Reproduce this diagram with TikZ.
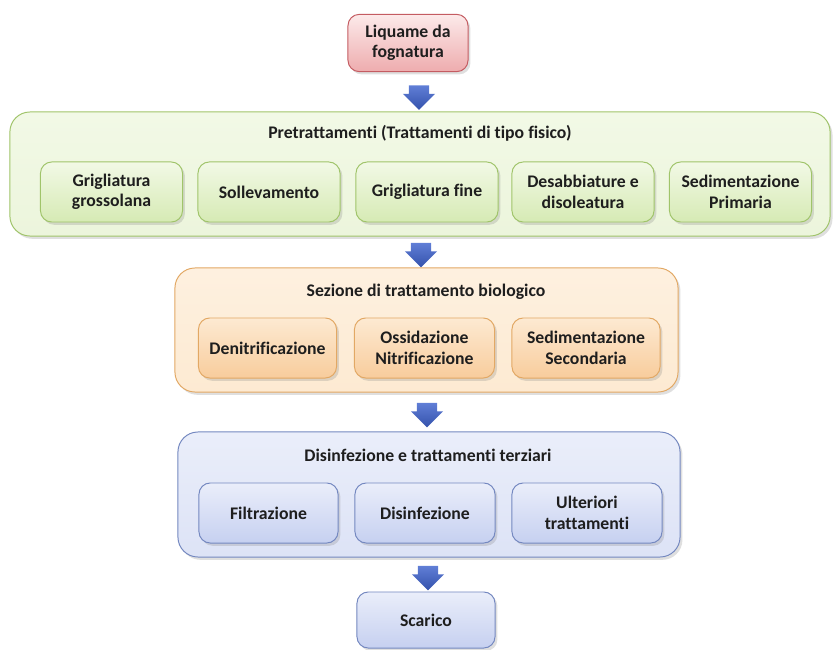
\documentclass[tikz,border=0pt]{standalone}
\usepackage{fontspec}
\setmainfont{Carlito}[Ligatures=NoCommon]
\usetikzlibrary{shapes.arrows, shadows}
\definecolor{pinktop}{RGB}{252, 234, 234}
\definecolor{pinkbot}{RGB}{238, 172, 174}
\definecolor{pinkline}{RGB}{196, 92, 98}
\definecolor{greenbg}{RGB}{236, 245, 220}
\definecolor{greentop}{RGB}{242, 249, 230}
\definecolor{greenbot}{RGB}{214, 234, 180}
\definecolor{greenline}{RGB}{160, 196, 106}
\definecolor{orangetop}{RGB}{253, 234, 210}
\definecolor{orangebot}{RGB}{248, 204, 156}
\definecolor{orangeline}{RGB}{226, 168, 100}
\definecolor{bluetop}{RGB}{234, 238, 250}
\definecolor{bluebot}{RGB}{198, 208, 240}
\definecolor{blueline}{RGB}{116, 136, 192}
\definecolor{arrowtop}{RGB}{96, 126, 214}
\definecolor{arrowbot}{RGB}{52, 82, 172}
\definecolor{textdark}{RGB}{30, 30, 30}

\tikzset{
  boxbase/.style={rounded corners=0.28cm, align=center, text=textdark,
    font=\bfseries\fontsize{12.6}{14.6}\selectfont, line width=0.7pt,
    drop shadow={opacity=0.25, shadow xshift=0.06cm, shadow yshift=-0.07cm}},
  inbox/.style={boxbase, minimum width=3.55cm, minimum height=1.5cm},
  groupbox/.style={boxbase, rounded corners=0.5cm, minimum height=3.1cm},
  titletext/.style={text=textdark, font=\bfseries\fontsize{12.6}{14.6}\selectfont},
  pinkbox/.style={draw=pinkline, top color=pinktop, bottom color=pinkbot},
  greenbox/.style={draw=greenline, top color=greentop, bottom color=greenbot},
  greengroup/.style={draw=greenline, top color=greentop, bottom color=greenbg},
  orangebox/.style={draw=orangeline, top color=orangetop, bottom color=orangebot},
  orangegroup/.style={draw=orangeline, top color=orangetop!70, bottom color=orangetop},
  bluebox/.style={draw=blueline, top color=bluetop, bottom color=bluebot},
  bluegroup/.style={draw=blueline, top color=bluetop, bottom color=bluebot!60},
  downarr/.style={single arrow, shape border rotate=270, draw=none,
    top color=arrowtop, bottom color=arrowbot, inner sep=0.17cm,
    minimum height=0.5cm, minimum width=0.8cm, single arrow head extend=0.1cm}
}

\begin{document}
\begin{tikzpicture}[x=0.025cm, y=-0.025cm]

  \useasboundingbox (0,0) rectangle (838,650);

  % 入口
  \node[inbox, pinkbox, minimum width=3cm, minimum height=1.43cm] (src) at (408,43)
    {Liquame da\\fognatura};
  \node[downarr] (arr1) at (419,92.5) {};

  % 预处理
  \node[groupbox, greengroup, minimum width=20.5cm] (pre) at (420,174) {};
  \node[titletext] (pretitle) at (420,133) {Pretrattamenti (Trattamenti di tipo fisico)};
  \node[inbox, greenbox] (gross) at (111.5,192) {Grigliatura\\grossolana};
  \node[inbox, greenbox] (soll) at (269,192) {Sollevamento};
  \node[inbox, greenbox] (fine) at (427,192) {Grigliatura fine};
  \node[inbox, greenbox] (desab) at (583,192) {Desabbiature e\\disoleatura};
  \node[inbox, greenbox] (sedpri) at (740.5,192) {Sedimentazione\\Primaria};
  \node[downarr] (arr2) at (421,250) {};

  % 生物处理
  \node[groupbox, orangegroup, minimum width=12.575cm] (bio) at (426.5,330) {};
  \node[titletext] (biotitle) at (426,292) {Sezione di trattamento biologico};
  \node[inbox, orangebox, minimum width=3.45cm] (denit) at (267.5,348) {Denitrificazione};
  \node[inbox, orangebox, minimum width=3.5cm] (ossid) at (424.5,348) {Ossidazione\\Nitrificazione};
  \node[inbox, orangebox, minimum width=3.7cm] (sedsec) at (586,348) {Sedimentazione\\Secondaria};
  \node[downarr] (arr3) at (427,410) {};

  % 消毒与三级处理
  \node[groupbox, bluegroup, minimum width=12.55cm, minimum height=3.125cm] (dis) at (429,494.5) {};
  \node[titletext] (distitle) at (428,455) {Disinfezione e trattamenti terziari};
  \node[inbox, bluebox, minimum width=3.475cm] (filt) at (268.5,513) {Filtrazione};
  \node[inbox, bluebox, minimum width=3.5cm] (disinf) at (425,513) {Disinfezione};
  \node[inbox, bluebox, minimum width=3.75cm] (ulter) at (587,513) {Ulteriori\\trattamenti};
  \node[downarr] (arr4) at (428,573) {};

  % 出口
  \node[inbox, bluebox, minimum width=3.45cm, minimum height=1.4cm] (scar) at (426,620) {Scarico};

\end{tikzpicture}
\end{document}
